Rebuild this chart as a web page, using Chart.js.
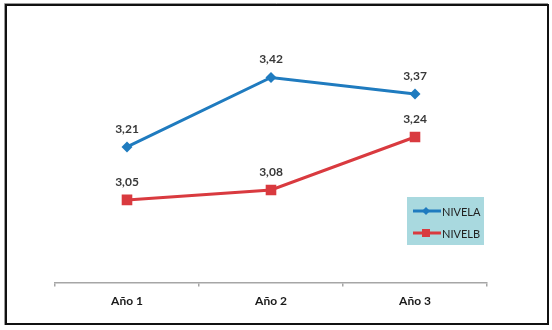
<!DOCTYPE html>
<html>
<head>
<meta charset="utf-8">
<script src="https://cdn.jsdelivr.net/npm/chart.js@4/dist/chart.umd.min.js"></script>
<style>
  html, body { margin: 0; padding: 0; background: #fff; }
  #wrap { width: 552px; height: 330px; position: relative; }
</style>
</head>
<body>
<div id="wrap"><canvas id="lineChart" width="552" height="330"></canvas></div>
<script>
const categories = ['Año 1', 'Año 2', 'Año 3'];
const seriesNames = ['NIVELA', 'NIVELB'];
const nivelA = [3.21, 3.42, 3.37];
const nivelB = [3.05, 3.08, 3.24];

const blue = '#1f7bbf';
const red = '#d93a3f';

// comma as decimal separator like the original
const fmt = v => v.toFixed(2).replace('.', ',');

// frame around the whole picture
const framePlugin = {
    id: 'frame',
    beforeDraw(chart) {
        const ctx = chart.ctx;
        ctx.save();
        ctx.strokeStyle = '#9a9a9a';
        ctx.lineWidth = 1;
        ctx.beginPath();
        ctx.moveTo(4.5, 325);
        ctx.lineTo(4.5, 3.5);
        ctx.lineTo(548, 3.5);
        ctx.stroke();
        ctx.strokeStyle = '#111';
        ctx.lineWidth = 2;
        ctx.strokeRect(6, 5, 542, 319);
        ctx.restore();
    }
};

// value labels above each point
const labelPlugin = {
    id: 'valueLabels',
    afterDatasetsDraw(chart) {
        const ctx = chart.ctx;
        ctx.save();
        ctx.font = 'bold 12px Lato';
        ctx.fillStyle = '#383838';
        ctx.textAlign = 'center';
        ctx.textBaseline = 'middle';
        chart.data.datasets.forEach((ds, i) => {
            chart.getDatasetMeta(i).data.forEach((pt, j) => {
                ctx.fillText(fmt(ds.data[j]), pt.x, pt.y - 18);
            });
        });
        ctx.restore();
    }
};

// legend box with teal background
const legendPlugin = {
    id: 'boxLegend',
    afterDraw(chart) {
        const ctx = chart.ctx;
        const bx = 407, by = 197, bw = 77, bh = 48;
        ctx.save();
        ctx.fillStyle = '#a9d9df';
        ctx.fillRect(bx, by, bw, bh);
        chart.data.datasets.forEach((ds, i) => {
            const y = by + 14 + i * 22;
            ctx.strokeStyle = ds.borderColor;
            ctx.lineWidth = 3;
            ctx.beginPath();
            ctx.moveTo(bx + 6, y);
            ctx.lineTo(bx + 34, y);
            ctx.stroke();
            ctx.fillStyle = ds.borderColor;
            if (ds.pointStyle === 'rectRot') {
                ctx.beginPath();
                ctx.moveTo(bx + 19, y - 4);
                ctx.lineTo(bx + 23, y);
                ctx.lineTo(bx + 19, y + 4);
                ctx.lineTo(bx + 15, y);
                ctx.closePath();
                ctx.fill();
            } else {
                ctx.fillRect(bx + 15, y - 4, 8, 8);
            }
            ctx.fillStyle = '#222';
            ctx.font = '11px Lato';
            ctx.textAlign = 'left';
            ctx.textBaseline = 'middle';
            ctx.fillText(ds.label, bx + 35, y + 1);
        });
        ctx.restore();
    }
};

const chart = new Chart(document.getElementById('lineChart'), {
    type: 'line',
    data: {
        labels: categories,
        datasets: [
            {
                label: seriesNames[0],
                data: nivelA,
                borderColor: blue,
                backgroundColor: blue,
                borderWidth: 3,
                pointStyle: 'rectRot',
                pointRadius: 5.5,
                pointBorderWidth: 0,
                tension: 0
            },
            {
                label: seriesNames[1],
                data: nivelB,
                borderColor: red,
                backgroundColor: red,
                borderWidth: 3,
                pointStyle: 'rect',
                pointRadius: 7.5,
                pointBorderWidth: 0,
                tension: 0
            }
        ]
    },
    options: {
        responsive: false,
        animation: false,
        devicePixelRatio: 1,
        layout: {
            padding: { left: 55, right: 65, top: 51, bottom: 15 }
        },
        scales: {
            x: {
                offset: true,
                grid: {
                    display: true,
                    offset: true,
                    drawOnChartArea: false,
                    drawTicks: true,
                    tickLength: 4,
                    color: '#a6a6a6',
                    lineWidth: 1.5
                },
                border: { display: true, color: '#a6a6a6', width: 1.5 },
                ticks: {
                    color: '#1a1a1a',
                    padding: 7,
                    font: { family: 'Lato', size: 12, weight: 'bold' }
                }
            },
            y: {
                display: false,
                min: 2.8,
                max: 3.5
            }
        },
        plugins: {
            legend: { display: false },
            tooltip: { enabled: false }
        }
    },
    plugins: [framePlugin, labelPlugin, legendPlugin]
});
</script>
</body>
</html>
